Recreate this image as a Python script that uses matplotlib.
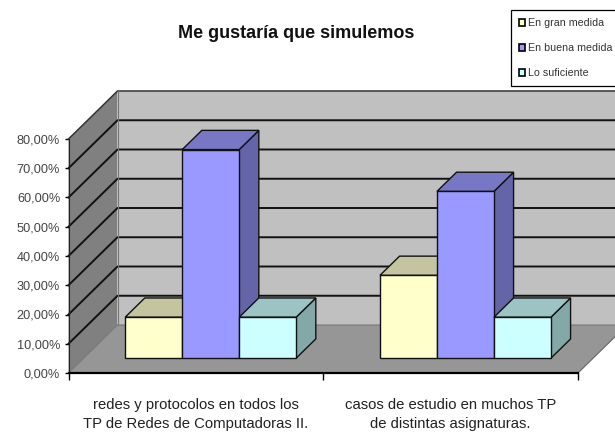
import matplotlib
matplotlib.use("Agg")
import matplotlib.pyplot as plt
from matplotlib.patches import Polygon, Patch

plt.rcParams['font.family'] = ['Liberation Sans', 'DejaVu Sans']

categories = ["redes y protocolos en todos los\nTP de Redes de Computadoras II.",
              "casos de estudio en muchos TP\nde distintas asignaturas."]
series_names = ["En gran medida", "En buena medida", "Lo suficiente"]
gran_medida = [14.0, 28.3]
buena_medida = [71.3, 57.0]
suficiente = [14.0, 14.0]
y_ticks = [0, 10, 20, 30, 40, 50, 60, 70, 80]
y_labels = ["0,00%", "10,00%", "20,00%", "30,00%", "40,00%", "50,00%", "60,00%", "70,00%", "80,00%"]

# front, top, side
yellow = ("#FFFFCC", "#C4C49F", "#A8A888")
blue = ("#9999FF", "#7777C6", "#6464A8")
cyan = ("#CCFFFF", "#9CC4C4", "#84A8A8")

W, H = 615, 433
fig = plt.figure(figsize=(W / 100, H / 100), dpi=100)
ax = fig.add_axes([68.5 / W, 1 - 373 / H, (578 - 68.5) / W, (373 - 139) / H])
ax.set_xlim(0, 2)
ax.set_ylim(0, 80)
ax.patch.set_visible(False)

# depth of the 3d box in data units
dx = 49 / 254.75
dy = 48 / 2.925


def poly(pts, fc, ec="none", lw=0, z=1):
    ax.add_patch(Polygon(pts, closed=True, fc=fc, ec=ec, lw=lw, zorder=z, clip_on=False, joinstyle="miter"))


# walls and floor
poly([(dx, dy), (2 + dx, dy), (2 + dx, 80 + dy), (dx, 80 + dy)], "#C0C0C0")
poly([(0, 0), (dx, dy), (dx, 80 + dy), (0, 80)], "#808080")
poly([(0, 0), (2, 0), (2 + dx, dy), (dx, dy)], "#969696")

for t in y_ticks[1:-1]:
    ax.plot([0, dx, 2 + dx], [t, t + dy, t + dy], color="#111111", lw=1.4, clip_on=False, zorder=2)
ax.plot([0, dx, 2 + dx], [80, 80 + dy, 80 + dy], color="#333333", lw=1.1, clip_on=False, zorder=2)
ax.plot([0, dx, 2 + dx], [0, dy, dy], color="#777777", lw=0.8, clip_on=False, zorder=2)
ax.plot([dx, dx], [dy, 80 + dy], color="#777777", lw=0.8, clip_on=False, zorder=2)
ax.plot([2, 2 + dx], [0, dy], color="#666666", lw=0.8, clip_on=False, zorder=2)

# bars
bar_w = 57 / 254.75
front = 0.31
back = 0.71


def bar_3d(x, v, cols, z):
    x0 = x + front * dx
    x1 = x0 + bar_w
    y0 = front * dy
    y1 = y0 + v
    ox = (back - front) * dx
    oy = (back - front) * dy
    ec = "#111111"
    poly([(x1, y0), (x1 + ox, y0 + oy), (x1 + ox, y1 + oy), (x1, y1)], cols[2], ec, 1.0, z)
    poly([(x0, y1), (x1, y1), (x1 + ox, y1 + oy), (x0 + ox, y1 + oy)], cols[1], ec, 1.0, z)
    poly([(x0, y0), (x1, y0), (x1, y1), (x0, y1)], cols[0], ec, 1.0, z)


for i in range(2):
    start = i + 0.163
    bar_3d(start, gran_medida[i], yellow, 3)
    bar_3d(start + bar_w, buena_medida[i], blue, 4)
    bar_3d(start + 2 * bar_w, suficiente[i], cyan, 5)

# axes
for s in ["top", "right"]:
    ax.spines[s].set_visible(False)
ax.spines["left"].set_color("#222222")
ax.spines["left"].set_zorder(6)
ax.spines["bottom"].set_linewidth(1.6)
ax.spines["bottom"].set_zorder(6)
ax.set_yticks(y_ticks)
ax.set_yticklabels(y_labels, fontsize=9.2, color="#444444")
ax.tick_params(axis="y", length=3, width=1, pad=3)
ax.set_xticks([0, 1, 2])
ax.set_xticklabels([])
ax.tick_params(axis="x", length=5, width=1)
ax.set_xticks([0.5, 1.5], minor=True)
ax.set_xticklabels(categories, minor=True, fontsize=10.7, color="#222222", linespacing=1.46)
ax.tick_params(axis="x", which="minor", length=0, pad=18)

fig.text(296 / W, 1 - 33 / H, "Me gustaría que simulemos", fontsize=13, fontweight="bold",
         ha="center", va="center", color="#111111")

handles = [Patch(fc=yellow[0], ec="black", lw=1.2), Patch(fc=blue[0], ec="black", lw=1.2), Patch(fc=cyan[0], ec="black", lw=1.2)]
leg = fig.legend(handles, series_names, loc="upper left", bbox_to_anchor=(511 / W, 1 - 10 / H),
                 fontsize=7.7, fancybox=False, framealpha=1, edgecolor="black", borderaxespad=0,
                 handlelength=0.6, handleheight=0.6, handletextpad=0.25, labelspacing=1.4,
                 borderpad=0.75, labelcolor="#333333")
leg.get_frame().set_linewidth(0.9)

fig.savefig("out.png", dpi=100, facecolor="white")
